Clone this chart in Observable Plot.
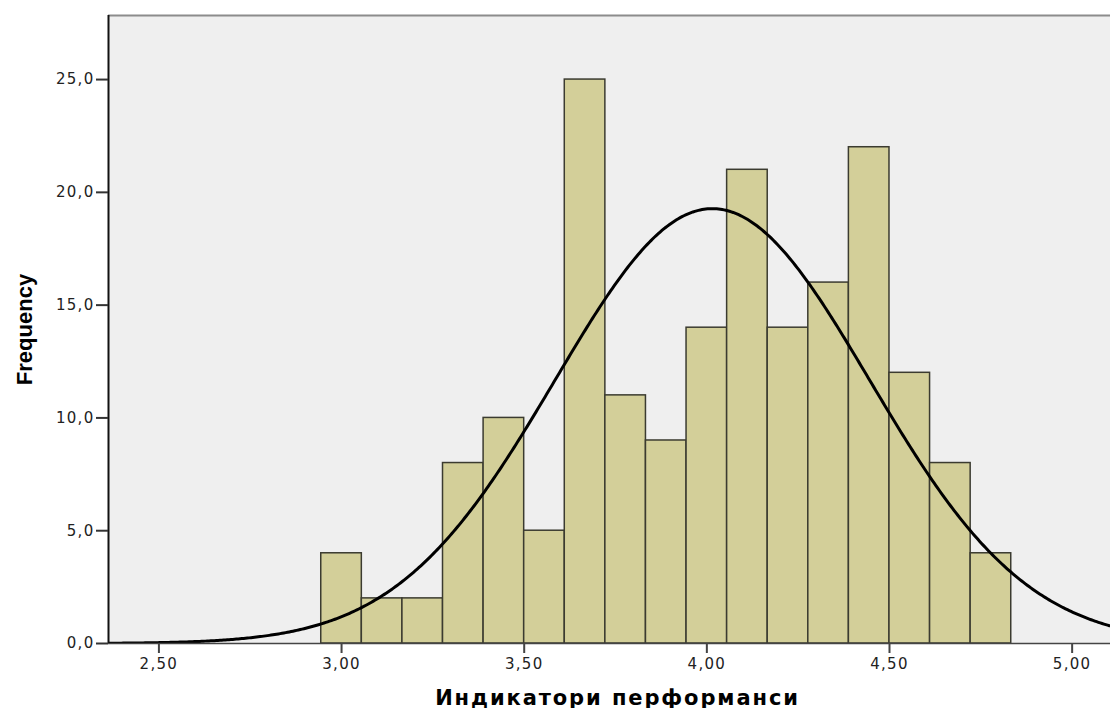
<!DOCTYPE html>
<html>
<head>
<meta charset="utf-8">
<script src="https://cdn.jsdelivr.net/npm/d3@7"></script>
<script src="https://cdn.jsdelivr.net/npm/@observablehq/plot@0.6"></script>
<style>
  html, body { margin: 0; padding: 0; background: #fff; }
  svg { display: block; }
  g[aria-label="x-axis tick label"] text,
  g[aria-label="y-axis tick label"] text { letter-spacing: 1.3px; }
</style>
</head>
<body>
<div id="chart"></div>
<script>
// Histogram of performance indicators with a fitted normal curve
const binStart = 2.9444;          // left edge of the first bin
const binWidth = 1 / 9;           // width of each bin
const counts = [4, 2, 2, 8, 10, 5, 25, 11, 9, 14, 21, 14, 16, 22, 12, 8, 4];

// Normal curve parameters (mean, std. deviation, N)
const mean = 4.015;
const sd = 0.43;
const total = 187;

const xTicks = [2.5, 3.0, 3.5, 4.0, 4.5, 5.0];
const yTicks = [0, 5, 10, 15, 20, 25];

const xTitle = "Индикатори перформанси";
const yTitle = "Frequency";

const xDomain = [2.362, 5.105];
const yDomain = [0, 27.84];

const bars = counts.map((c, i) => ({
  x1: binStart + i * binWidth,
  x2: binStart + (i + 1) * binWidth,
  count: c
}));

// Expected frequency per bin under the normal curve
const curve = d3.range(xDomain[0], xDomain[1] + 0.001, 0.005).map(x => ({
  x,
  y: total * binWidth / (sd * Math.sqrt(2 * Math.PI)) * Math.exp(-0.5 * ((x - mean) / sd) ** 2)
}));

const comma = s => s.replace(".", ",");

const chart = Plot.plot({
  width: 1110,
  height: 708,
  marginLeft: 108,
  marginRight: 0,
  marginTop: 15,
  marginBottom: 65,
  style: { fontFamily: "'DejaVu Sans', sans-serif", fontSize: "15px", color: "#222", background: "#fff" },
  x: { domain: xDomain },
  y: { domain: yDomain },
  marks: [
    Plot.frame({ fill: "#efefef", stroke: "none" }),
    Plot.rectY(bars, { x1: "x1", x2: "x2", y: "count", fill: "#d3cf99", stroke: "#3b3b30", strokeWidth: 1.5 }),
    Plot.line(curve, { x: "x", y: "y", stroke: "#000", strokeWidth: 3, clip: true }),
    Plot.ruleY([yDomain[1]], { stroke: "#8c8c8c", strokeWidth: 2 }),
    Plot.ruleY([0], { stroke: "#444", strokeWidth: 1.5 }),
    Plot.ruleX([xDomain[0]], { stroke: "#111", strokeWidth: 2 }),
    Plot.axisX(xTicks, {
      tickSize: 10, tickPadding: 5, tickFormat: d => comma(d.toFixed(2)),
      stroke: "#444", strokeWidth: 2, label: null, fill: "#222"
    }),
    Plot.axisY(yTicks, {
      tickSize: 12, tickPadding: 2, tickFormat: d => comma(d.toFixed(1)),
      stroke: "#333", strokeWidth: 2, label: null, fill: "#222"
    }),
    Plot.text([xTitle], {
      frameAnchor: "bottom", dy: 61, dx: 8, text: d => d,
      fontWeight: "bold", fontSize: 21, fill: "#000"
    }),
    Plot.text([yTitle], {
      frameAnchor: "left", textAnchor: "middle", dx: -84, rotate: -90, text: d => d,
      fontFamily: "'Liberation Sans Narrow', 'Liberation Sans', sans-serif",
      fontWeight: "bold", fontSize: 22, fill: "#000"
    })
  ]
});

// Slightly spaced-out lettering for the x-axis title
chart.querySelectorAll("text").forEach(t => {
  if (t.textContent === xTitle) t.style.letterSpacing = "1.9px";
});

document.getElementById("chart").appendChild(chart);
</script>
</body>
</html>
